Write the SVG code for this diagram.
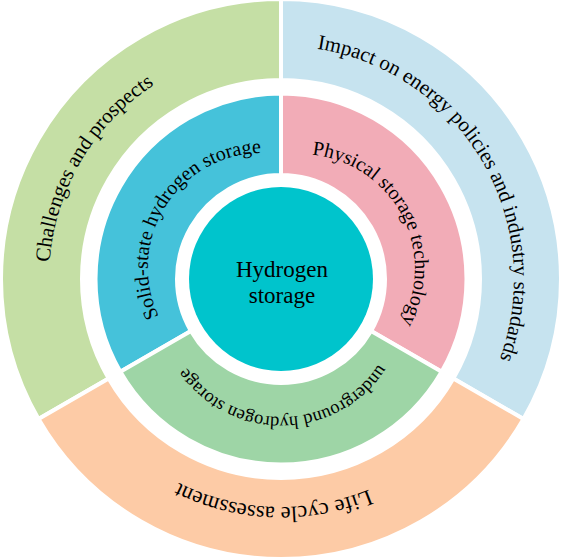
<svg xmlns="http://www.w3.org/2000/svg" width="563" height="558" viewBox="0 0 563 558">
<style>
.seg{stroke:#fff;stroke-width:4;stroke-linejoin:miter}
.t{font-family:"Liberation Serif","Times New Roman",serif;fill:#000}
.out{font-size:21px}
.inn{font-size:20px}
</style>
<defs>
<path id="p-chal" d="M146.28,467.88 A232,232 0 0 1 380.88,69.60" fill="none"/>
<path id="p-imp" d="M180.69,68.70 A233,233 0 0 1 416.30,468.69" fill="none"/>
<path id="p-life" d="M507.30,306.79 A228,228 0 0 1 53.31,290.93" fill="none"/>
<path id="p-solid" d="M193.43,358.78 A114.5,114.5 0 0 1 314.32,165.32" fill="none"/>
<path id="p-phys" d="M255.68,163.27 A114.5,114.5 0 0 1 362.78,364.70" fill="none"/>
<path id="p-under" d="M397.10,309.09 A116,116 0 0 1 166.02,313.13" fill="none"/>
</defs>
<g id="challenges">
<path class="seg" fill="#C5DFA5" d="M38.51,419 A280,280 0 0 1 281,-1 L281,80 A199,199 0 0 0 108.66,378.5 Z"/>
<text class="t out"><textPath href="#p-chal" startOffset="50%" text-anchor="middle">Challenges and prospects</textPath></text>
</g>
<g id="impact">
<path class="seg" fill="#C6E3EF" d="M281,-1 A280,280 0 0 1 523.49,419 L453.34,378.5 A199,199 0 0 0 281,80 Z"/>
<text class="t out"><textPath href="#p-imp" startOffset="50%" text-anchor="middle">Impact on energy policies and industry standards</textPath></text>
</g>
<g id="life-cycle">
<path class="seg" fill="#FDCBA6" d="M523.49,419 A280,280 0 0 1 38.51,419 L108.66,378.5 A199,199 0 0 0 453.34,378.5 Z"/>
<text class="t" font-size="22.5"><textPath href="#p-life" startOffset="50%" text-anchor="middle">Life cycle assessment</textPath></text>
</g>
<g id="solid-state">
<path class="seg" fill="#45C2DA" d="M120.35,371.75 A185.5,185.5 0 0 1 281,93.5 L281,175 A104,104 0 0 0 190.93,331 Z"/>
<text class="t inn"><textPath href="#p-solid" startOffset="50%" text-anchor="middle">Solid-state hydrogen storage</textPath></text>
</g>
<g id="physical">
<path class="seg" fill="#F2ACB7" d="M281,93.5 A185.5,185.5 0 0 1 441.65,371.75 L371.07,331 A104,104 0 0 0 281,175 Z"/>
<text class="t inn"><textPath href="#p-phys" startOffset="50%" text-anchor="middle">Physical storage technology</textPath></text>
</g>
<g id="underground">
<path class="seg" fill="#9ED5A6" d="M441.65,371.75 A185.5,185.5 0 0 1 120.35,371.75 L190.93,331 A104,104 0 0 0 371.07,331 Z"/>
<text class="t" font-size="18.5"><textPath href="#p-under" startOffset="50%" text-anchor="middle">underground hydrogen storage</textPath></text>
</g>
<g id="center">
<circle cx="281" cy="279" r="92" fill="#00C4CC"/>
<text class="t" font-size="23" text-anchor="middle"><tspan x="282" y="277">Hydrogen</tspan><tspan x="282" y="303">storage</tspan></text>
</g>
</svg>
